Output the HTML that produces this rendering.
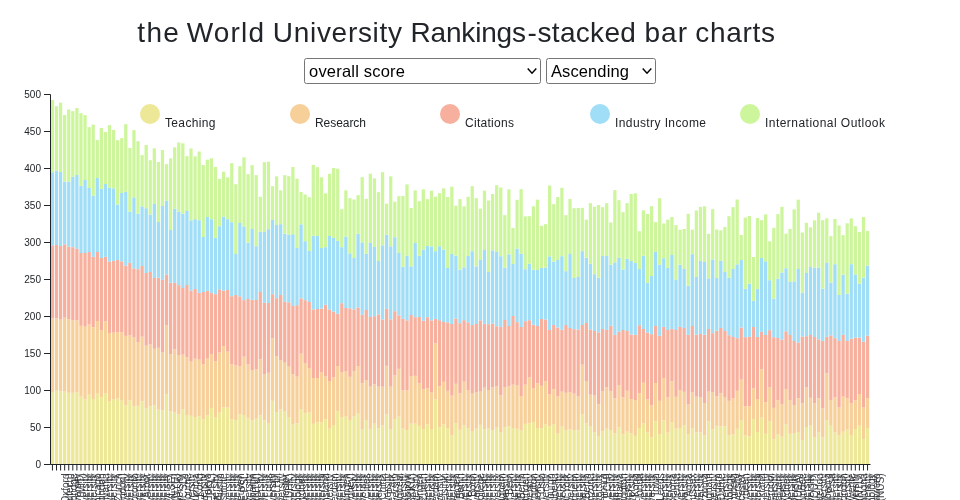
<!DOCTYPE html>
<html lang="en"><head><meta charset="utf-8"><title>the World University Rankings-stacked bar charts</title>
<style>
html,body{margin:0;padding:0;background:#fff;}
body{width:960px;height:500px;overflow:hidden;position:relative;font-family:"Liberation Sans","DejaVu Sans",sans-serif;color:#212529;}
h3{position:absolute;left:0;top:16px;width:960px;height:34px;margin:0;font-weight:400;font-size:28px;line-height:34px;white-space:nowrap;}
h3 span{position:absolute;top:0;}
.sel{position:absolute;top:58px;height:24px;border:1px solid #767676;border-radius:2.5px;background:#fff;font-size:16.5px;line-height:24px;color:#000;white-space:nowrap;box-sizing:content-box;}
.sel span{position:absolute;left:4px;top:-0.5px;}
.sel svg{position:absolute;right:2px;top:8px;}
svg.chart{position:absolute;left:0;top:0;}
svg.chart text{font-family:"Liberation Sans","DejaVu Sans",sans-serif;fill:#212529;}
.ax text{font-size:10px;}
.lg text{font-size:12px;}
</style></head><body>
<h3 id="title"><span id="w0" style="left:137.30px;letter-spacing:1.350px">the</span> <span id="w1" style="left:186.70px;letter-spacing:1.175px">World</span> <span id="w2" style="left:272.80px;letter-spacing:0.700px">University</span> <span id="w3" style="left:410.60px;letter-spacing:-0.200px">Rankings</span><span id="w4" style="left:527.40px;letter-spacing:0.500px">-</span><span id="w5" style="left:537.50px;letter-spacing:0.317px">stacked</span> <span id="w6" style="left:644.60px;letter-spacing:0.950px">bar</span> <span id="w7" style="left:695.20px;letter-spacing:0.700px">charts</span> </h3>
<div class="sel" id="s1" style="left:304px;width:235px"><span style="letter-spacing:0.2px">overall score</span><svg width="12" height="8" viewBox="0 0 12 8"><path d="M1.7 1.6 L6 6.2 L10.3 1.6" fill="none" stroke="#000" stroke-width="1.45"/></svg></div>
<div class="sel" id="s2" style="left:546px;width:108px"><span style="letter-spacing:0.1px">Ascending</span><svg width="12" height="8" viewBox="0 0 12 8"><path d="M1.7 1.6 L6 6.2 L10.3 1.6" fill="none" stroke="#000" stroke-width="1.45"/></svg></div>
<svg class="chart" width="960" height="500" viewBox="0 0 960 500">
<g fill="#ede798">
<rect x="50.82" y="392.17" width="3.26" height="71.83"/><rect x="54.89" y="390.67" width="3.26" height="73.33"/><rect x="58.97" y="391.33" width="3.26" height="72.67"/><rect x="63.04" y="391.67" width="3.26" height="72.33"/><rect x="67.12" y="392.83" width="3.26" height="71.17"/><rect x="71.19" y="392.83" width="3.26" height="71.17"/><rect x="75.27" y="392.17" width="3.26" height="71.83"/><rect x="79.34" y="396.67" width="3.26" height="67.33"/><rect x="83.42" y="399.33" width="3.26" height="64.67"/><rect x="87.5" y="394.67" width="3.26" height="69.33"/><rect x="91.57" y="399" width="3.26" height="65"/><rect x="95.65" y="393.67" width="3.26" height="70.33"/><rect x="99.72" y="397.17" width="3.26" height="66.83"/><rect x="103.8" y="393.33" width="3.26" height="70.67"/><rect x="107.87" y="401.33" width="3.26" height="62.67"/><rect x="111.95" y="399.5" width="3.26" height="64.5"/><rect x="116.02" y="398.5" width="3.26" height="65.5"/><rect x="120.1" y="400.67" width="3.26" height="63.33"/><rect x="124.17" y="405.33" width="3.26" height="58.67"/><rect x="128.25" y="400.5" width="3.26" height="63.5"/><rect x="132.33" y="406.33" width="3.26" height="57.67"/><rect x="136.4" y="405.83" width="3.26" height="58.17"/><rect x="140.48" y="401.33" width="3.26" height="62.67"/><rect x="144.55" y="408.5" width="3.26" height="55.5"/><rect x="148.63" y="406.33" width="3.26" height="57.67"/><rect x="152.7" y="405.33" width="3.26" height="58.67"/><rect x="156.78" y="409.67" width="3.26" height="54.33"/><rect x="160.85" y="410.33" width="3.26" height="53.67"/><rect x="164.93" y="394.5" width="3.26" height="69.5"/><rect x="169.01" y="411.5" width="3.26" height="52.5"/><rect x="173.08" y="412.5" width="3.26" height="51.5"/><rect x="177.16" y="414.67" width="3.26" height="49.33"/><rect x="181.23" y="409.17" width="3.26" height="54.83"/><rect x="185.31" y="415" width="3.26" height="49"/><rect x="189.38" y="415.83" width="3.26" height="48.17"/><rect x="193.46" y="417" width="3.26" height="47"/><rect x="197.53" y="416.33" width="3.26" height="47.67"/><rect x="201.61" y="419.5" width="3.26" height="44.5"/><rect x="205.69" y="415.5" width="3.26" height="48.5"/><rect x="209.76" y="408" width="3.26" height="56"/><rect x="213.84" y="417.5" width="3.26" height="46.5"/><rect x="217.91" y="412.5" width="3.26" height="51.5"/><rect x="221.99" y="407.5" width="3.26" height="56.5"/><rect x="226.06" y="407.5" width="3.26" height="56.5"/><rect x="230.14" y="419.17" width="3.26" height="44.83"/><rect x="234.21" y="420" width="3.26" height="44"/><rect x="238.29" y="414.17" width="3.26" height="49.83"/><rect x="242.37" y="415" width="3.26" height="49"/><rect x="246.44" y="417.83" width="3.26" height="46.17"/><rect x="250.52" y="420.5" width="3.26" height="43.5"/><rect x="254.59" y="418.67" width="3.26" height="45.33"/><rect x="258.67" y="415.33" width="3.26" height="48.67"/><rect x="262.74" y="420.33" width="3.26" height="43.67"/><rect x="266.82" y="423" width="3.26" height="41"/><rect x="270.89" y="400.83" width="3.26" height="63.17"/><rect x="274.97" y="412" width="3.26" height="52"/><rect x="279.05" y="409.33" width="3.26" height="54.67"/><rect x="283.12" y="411.67" width="3.26" height="52.33"/><rect x="287.2" y="417" width="3.26" height="47"/><rect x="291.27" y="424.67" width="3.26" height="39.33"/><rect x="295.35" y="423.33" width="3.26" height="40.67"/><rect x="299.42" y="409.17" width="3.26" height="54.83"/><rect x="303.5" y="413.33" width="3.26" height="50.67"/><rect x="307.57" y="412.5" width="3.26" height="51.5"/><rect x="311.65" y="423.83" width="3.26" height="40.17"/><rect x="315.73" y="422.33" width="3.26" height="41.67"/><rect x="319.8" y="422.5" width="3.26" height="41.5"/><rect x="323.88" y="419.17" width="3.26" height="44.83"/><rect x="327.95" y="428.67" width="3.26" height="35.33"/><rect x="332.03" y="425" width="3.26" height="39"/><rect x="336.1" y="411.33" width="3.26" height="52.67"/><rect x="340.18" y="417" width="3.26" height="47"/><rect x="344.25" y="416.67" width="3.26" height="47.33"/><rect x="348.33" y="420" width="3.26" height="44"/><rect x="352.41" y="416.33" width="3.26" height="47.67"/><rect x="356.48" y="413.67" width="3.26" height="50.33"/><rect x="360.56" y="429.67" width="3.26" height="34.33"/><rect x="364.63" y="420" width="3.26" height="44"/><rect x="368.71" y="428.83" width="3.26" height="35.17"/><rect x="372.78" y="423.67" width="3.26" height="40.33"/><rect x="376.86" y="428" width="3.26" height="36"/><rect x="380.93" y="425.5" width="3.26" height="38.5"/><rect x="385.01" y="414.5" width="3.26" height="49.5"/><rect x="389.09" y="429" width="3.26" height="35"/><rect x="393.16" y="419" width="3.26" height="45"/><rect x="397.24" y="416.67" width="3.26" height="47.33"/><rect x="401.31" y="428.67" width="3.26" height="35.33"/><rect x="405.39" y="430" width="3.26" height="34"/><rect x="409.46" y="423.67" width="3.26" height="40.33"/><rect x="413.54" y="423.67" width="3.26" height="40.33"/><rect x="417.61" y="425.83" width="3.26" height="38.17"/><rect x="421.69" y="429" width="3.26" height="35"/><rect x="425.77" y="424.33" width="3.26" height="39.67"/><rect x="429.84" y="429" width="3.26" height="35"/><rect x="433.92" y="399.5" width="3.26" height="64.5"/><rect x="437.99" y="427.5" width="3.26" height="36.5"/><rect x="442.07" y="424.5" width="3.26" height="39.5"/><rect x="446.14" y="428" width="3.26" height="36"/><rect x="450.22" y="435.33" width="3.26" height="28.67"/><rect x="454.29" y="423.17" width="3.26" height="40.83"/><rect x="458.37" y="429.83" width="3.26" height="34.17"/><rect x="462.45" y="425.5" width="3.26" height="38.5"/><rect x="466.52" y="428.17" width="3.26" height="35.83"/><rect x="470.6" y="431.67" width="3.26" height="32.33"/><rect x="474.67" y="428.67" width="3.26" height="35.33"/><rect x="478.75" y="424.83" width="3.26" height="39.17"/><rect x="482.82" y="429.17" width="3.26" height="34.83"/><rect x="486.9" y="428.5" width="3.26" height="35.5"/><rect x="490.97" y="430.5" width="3.26" height="33.5"/><rect x="495.05" y="427" width="3.26" height="37"/><rect x="499.13" y="432.5" width="3.26" height="31.5"/><rect x="503.2" y="427.33" width="3.26" height="36.67"/><rect x="507.28" y="426.17" width="3.26" height="37.83"/><rect x="511.35" y="428" width="3.26" height="36"/><rect x="515.43" y="428.83" width="3.26" height="35.17"/><rect x="519.5" y="430.5" width="3.26" height="33.5"/><rect x="523.58" y="423.83" width="3.26" height="40.17"/><rect x="527.65" y="423.33" width="3.26" height="40.67"/><rect x="531.73" y="422" width="3.26" height="42"/><rect x="535.81" y="428" width="3.26" height="36"/><rect x="539.88" y="428.33" width="3.26" height="35.67"/><rect x="543.96" y="424.5" width="3.26" height="39.5"/><rect x="548.03" y="426.33" width="3.26" height="37.67"/><rect x="552.11" y="424.17" width="3.26" height="39.83"/><rect x="556.18" y="433.67" width="3.26" height="30.33"/><rect x="560.26" y="426.67" width="3.26" height="37.33"/><rect x="564.33" y="430.33" width="3.26" height="33.67"/><rect x="568.41" y="429.5" width="3.26" height="34.5"/><rect x="572.49" y="430" width="3.26" height="34"/><rect x="576.56" y="430.33" width="3.26" height="33.67"/><rect x="580.64" y="414.17" width="3.26" height="49.83"/><rect x="584.71" y="423.33" width="3.26" height="40.67"/><rect x="588.79" y="426.67" width="3.26" height="37.33"/><rect x="592.86" y="432" width="3.26" height="32"/><rect x="596.94" y="436" width="3.26" height="28"/><rect x="601.01" y="431.33" width="3.26" height="32.67"/><rect x="605.09" y="428.67" width="3.26" height="35.33"/><rect x="609.17" y="430" width="3.26" height="34"/><rect x="613.24" y="433.33" width="3.26" height="30.67"/><rect x="617.32" y="427.33" width="3.26" height="36.67"/><rect x="621.39" y="434.5" width="3.26" height="29.5"/><rect x="625.47" y="431.67" width="3.26" height="32.33"/><rect x="629.54" y="433.33" width="3.26" height="30.67"/><rect x="633.62" y="435.83" width="3.26" height="28.17"/><rect x="637.69" y="428" width="3.26" height="36"/><rect x="641.77" y="423.5" width="3.26" height="40.5"/><rect x="645.84" y="432.5" width="3.26" height="31.5"/><rect x="649.92" y="437.17" width="3.26" height="26.83"/><rect x="654" y="421.33" width="3.26" height="42.67"/><rect x="658.07" y="434.33" width="3.26" height="29.67"/><rect x="662.15" y="420.33" width="3.26" height="43.67"/><rect x="666.22" y="432.67" width="3.26" height="31.33"/><rect x="670.3" y="422" width="3.26" height="42"/><rect x="674.37" y="428.67" width="3.26" height="35.33"/><rect x="678.45" y="428" width="3.26" height="36"/><rect x="682.52" y="425" width="3.26" height="39"/><rect x="686.6" y="434" width="3.26" height="30"/><rect x="690.68" y="428" width="3.26" height="36"/><rect x="694.75" y="432.5" width="3.26" height="31.5"/><rect x="698.83" y="432.5" width="3.26" height="31.5"/><rect x="702.9" y="435.5" width="3.26" height="28.5"/><rect x="706.98" y="421.33" width="3.26" height="42.67"/><rect x="711.05" y="429.17" width="3.26" height="34.83"/><rect x="715.13" y="425.83" width="3.26" height="38.17"/><rect x="719.2" y="426.33" width="3.26" height="37.67"/><rect x="723.28" y="426.17" width="3.26" height="37.83"/><rect x="727.36" y="435.33" width="3.26" height="28.67"/><rect x="731.43" y="434.5" width="3.26" height="29.5"/><rect x="735.51" y="428.83" width="3.26" height="35.17"/><rect x="739.58" y="420.5" width="3.26" height="43.5"/><rect x="743.66" y="435.5" width="3.26" height="28.5"/><rect x="747.73" y="436.33" width="3.26" height="27.67"/><rect x="751.81" y="419.17" width="3.26" height="44.83"/><rect x="755.88" y="432" width="3.26" height="32"/><rect x="759.96" y="417.67" width="3.26" height="46.33"/><rect x="764.04" y="433.83" width="3.26" height="30.17"/><rect x="768.11" y="421.33" width="3.26" height="42.67"/><rect x="772.19" y="439.17" width="3.26" height="24.83"/><rect x="776.26" y="434.5" width="3.26" height="29.5"/><rect x="780.34" y="436.67" width="3.26" height="27.33"/><rect x="784.41" y="424.5" width="3.26" height="39.5"/><rect x="788.49" y="433.83" width="3.26" height="30.17"/><rect x="792.56" y="433" width="3.26" height="31"/><rect x="796.64" y="432" width="3.26" height="32"/><rect x="800.72" y="440" width="3.26" height="24"/><rect x="804.79" y="427" width="3.26" height="37"/><rect x="808.87" y="425" width="3.26" height="39"/><rect x="812.94" y="437" width="3.26" height="27"/><rect x="817.02" y="432.5" width="3.26" height="31.5"/><rect x="821.09" y="437.5" width="3.26" height="26.5"/><rect x="825.17" y="420" width="3.26" height="44"/><rect x="829.24" y="425.67" width="3.26" height="38.33"/><rect x="833.32" y="432.5" width="3.26" height="31.5"/><rect x="837.4" y="435.5" width="3.26" height="28.5"/><rect x="841.47" y="431.67" width="3.26" height="32.33"/><rect x="845.55" y="429.67" width="3.26" height="34.33"/><rect x="849.62" y="435" width="3.26" height="29"/><rect x="853.7" y="429" width="3.26" height="35"/><rect x="857.77" y="425.6" width="3.26" height="38.4"/><rect x="861.85" y="439" width="3.26" height="25"/><rect x="865.92" y="428" width="3.26" height="36"/>
</g>
<g fill="#f7cf99">
<rect x="50.82" y="318.33" width="3.26" height="73.83"/><rect x="54.89" y="318.33" width="3.26" height="72.33"/><rect x="58.97" y="319.67" width="3.26" height="71.67"/><rect x="63.04" y="317.67" width="3.26" height="74"/><rect x="67.12" y="319.17" width="3.26" height="73.67"/><rect x="71.19" y="320.33" width="3.26" height="72.5"/><rect x="75.27" y="320.33" width="3.26" height="71.83"/><rect x="79.34" y="325.83" width="3.26" height="70.83"/><rect x="83.42" y="326.67" width="3.26" height="72.67"/><rect x="87.5" y="324.5" width="3.26" height="70.17"/><rect x="91.57" y="327.17" width="3.26" height="71.83"/><rect x="95.65" y="321" width="3.26" height="72.67"/><rect x="99.72" y="330" width="3.26" height="67.17"/><rect x="103.8" y="321.33" width="3.26" height="72"/><rect x="107.87" y="333" width="3.26" height="68.33"/><rect x="111.95" y="332.67" width="3.26" height="66.83"/><rect x="116.02" y="332.17" width="3.26" height="66.33"/><rect x="120.1" y="332.5" width="3.26" height="68.17"/><rect x="124.17" y="335.83" width="3.26" height="69.5"/><rect x="128.25" y="335.17" width="3.26" height="65.33"/><rect x="132.33" y="337.17" width="3.26" height="69.17"/><rect x="136.4" y="342" width="3.26" height="63.83"/><rect x="140.48" y="336.67" width="3.26" height="64.67"/><rect x="144.55" y="345.67" width="3.26" height="62.83"/><rect x="148.63" y="344.5" width="3.26" height="61.83"/><rect x="152.7" y="348.83" width="3.26" height="56.5"/><rect x="156.78" y="347.83" width="3.26" height="61.83"/><rect x="160.85" y="352.17" width="3.26" height="58.17"/><rect x="164.93" y="325" width="3.26" height="69.5"/><rect x="169.01" y="354.17" width="3.26" height="57.33"/><rect x="173.08" y="349.17" width="3.26" height="63.33"/><rect x="177.16" y="355" width="3.26" height="59.67"/><rect x="181.23" y="354.67" width="3.26" height="54.5"/><rect x="185.31" y="357.17" width="3.26" height="57.83"/><rect x="189.38" y="361.67" width="3.26" height="54.17"/><rect x="193.46" y="358.67" width="3.26" height="58.33"/><rect x="197.53" y="359.67" width="3.26" height="56.67"/><rect x="201.61" y="364.17" width="3.26" height="55.33"/><rect x="205.69" y="358.67" width="3.26" height="56.83"/><rect x="209.76" y="354.17" width="3.26" height="53.83"/><rect x="213.84" y="361.17" width="3.26" height="56.33"/><rect x="217.91" y="352.5" width="3.26" height="60"/><rect x="221.99" y="346.17" width="3.26" height="61.33"/><rect x="226.06" y="351.67" width="3.26" height="55.83"/><rect x="230.14" y="364.17" width="3.26" height="55"/><rect x="234.21" y="365.5" width="3.26" height="54.5"/><rect x="238.29" y="366.33" width="3.26" height="47.83"/><rect x="242.37" y="356.67" width="3.26" height="58.33"/><rect x="246.44" y="364.5" width="3.26" height="53.33"/><rect x="250.52" y="370" width="3.26" height="50.5"/><rect x="254.59" y="369.17" width="3.26" height="49.5"/><rect x="258.67" y="359.17" width="3.26" height="56.17"/><rect x="262.74" y="374.5" width="3.26" height="45.83"/><rect x="266.82" y="372.83" width="3.26" height="50.17"/><rect x="270.89" y="338.33" width="3.26" height="62.5"/><rect x="274.97" y="356.33" width="3.26" height="55.67"/><rect x="279.05" y="360" width="3.26" height="49.33"/><rect x="283.12" y="362.67" width="3.26" height="49"/><rect x="287.2" y="366.67" width="3.26" height="50.33"/><rect x="291.27" y="374.17" width="3.26" height="50.5"/><rect x="295.35" y="376.67" width="3.26" height="46.67"/><rect x="299.42" y="353.67" width="3.26" height="55.5"/><rect x="303.5" y="363.5" width="3.26" height="49.83"/><rect x="307.57" y="368.33" width="3.26" height="44.17"/><rect x="311.65" y="378" width="3.26" height="45.83"/><rect x="315.73" y="378" width="3.26" height="44.33"/><rect x="319.8" y="372.5" width="3.26" height="50"/><rect x="323.88" y="376.5" width="3.26" height="42.67"/><rect x="327.95" y="381" width="3.26" height="47.67"/><rect x="332.03" y="377.33" width="3.26" height="47.67"/><rect x="336.1" y="366" width="3.26" height="45.33"/><rect x="340.18" y="372.33" width="3.26" height="44.67"/><rect x="344.25" y="371.17" width="3.26" height="45.5"/><rect x="348.33" y="376.83" width="3.26" height="43.17"/><rect x="352.41" y="371.17" width="3.26" height="45.17"/><rect x="356.48" y="366" width="3.26" height="47.67"/><rect x="360.56" y="383.33" width="3.26" height="46.33"/><rect x="364.63" y="380" width="3.26" height="40"/><rect x="368.71" y="386.67" width="3.26" height="42.17"/><rect x="372.78" y="384.17" width="3.26" height="39.5"/><rect x="376.86" y="386.67" width="3.26" height="41.33"/><rect x="380.93" y="386.67" width="3.26" height="38.83"/><rect x="385.01" y="365.83" width="3.26" height="48.67"/><rect x="389.09" y="386.67" width="3.26" height="42.33"/><rect x="393.16" y="375.5" width="3.26" height="43.5"/><rect x="397.24" y="368.83" width="3.26" height="47.83"/><rect x="401.31" y="390.33" width="3.26" height="38.33"/><rect x="405.39" y="390.33" width="3.26" height="39.67"/><rect x="409.46" y="376.17" width="3.26" height="47.5"/><rect x="413.54" y="375.83" width="3.26" height="47.83"/><rect x="417.61" y="383.33" width="3.26" height="42.5"/><rect x="421.69" y="389.17" width="3.26" height="39.83"/><rect x="425.77" y="388.33" width="3.26" height="36"/><rect x="429.84" y="392.5" width="3.26" height="36.5"/><rect x="433.92" y="343.33" width="3.26" height="56.17"/><rect x="437.99" y="386.17" width="3.26" height="41.33"/><rect x="442.07" y="381.83" width="3.26" height="42.67"/><rect x="446.14" y="390.83" width="3.26" height="37.17"/><rect x="450.22" y="395.67" width="3.26" height="39.67"/><rect x="454.29" y="383.83" width="3.26" height="39.33"/><rect x="458.37" y="393.33" width="3.26" height="36.5"/><rect x="462.45" y="381.67" width="3.26" height="43.83"/><rect x="466.52" y="390" width="3.26" height="38.17"/><rect x="470.6" y="393.67" width="3.26" height="38"/><rect x="474.67" y="392.5" width="3.26" height="36.17"/><rect x="478.75" y="391.67" width="3.26" height="33.17"/><rect x="482.82" y="387.67" width="3.26" height="41.5"/><rect x="486.9" y="390" width="3.26" height="38.5"/><rect x="490.97" y="387.33" width="3.26" height="43.17"/><rect x="495.05" y="386.33" width="3.26" height="40.67"/><rect x="499.13" y="395.33" width="3.26" height="37.17"/><rect x="503.2" y="387" width="3.26" height="40.33"/><rect x="507.28" y="386.33" width="3.26" height="39.83"/><rect x="511.35" y="384.67" width="3.26" height="43.33"/><rect x="515.43" y="385.5" width="3.26" height="43.33"/><rect x="519.5" y="396" width="3.26" height="34.5"/><rect x="523.58" y="384.67" width="3.26" height="39.17"/><rect x="527.65" y="377.5" width="3.26" height="45.83"/><rect x="531.73" y="388.33" width="3.26" height="33.67"/><rect x="535.81" y="383.33" width="3.26" height="44.67"/><rect x="539.88" y="385.83" width="3.26" height="42.5"/><rect x="543.96" y="381.33" width="3.26" height="43.17"/><rect x="548.03" y="394.5" width="3.26" height="31.83"/><rect x="552.11" y="389.33" width="3.26" height="34.83"/><rect x="556.18" y="396.33" width="3.26" height="37.33"/><rect x="560.26" y="391.67" width="3.26" height="35"/><rect x="564.33" y="392.83" width="3.26" height="37.5"/><rect x="568.41" y="392" width="3.26" height="37.5"/><rect x="572.49" y="393.67" width="3.26" height="36.33"/><rect x="576.56" y="396.17" width="3.26" height="34.17"/><rect x="580.64" y="364.67" width="3.26" height="49.5"/><rect x="584.71" y="381" width="3.26" height="42.33"/><rect x="588.79" y="394.67" width="3.26" height="32"/><rect x="592.86" y="395.5" width="3.26" height="36.5"/><rect x="596.94" y="404.33" width="3.26" height="31.67"/><rect x="601.01" y="391.5" width="3.26" height="39.83"/><rect x="605.09" y="387.5" width="3.26" height="41.17"/><rect x="609.17" y="391.33" width="3.26" height="38.67"/><rect x="613.24" y="398.33" width="3.26" height="35"/><rect x="617.32" y="385.17" width="3.26" height="42.17"/><rect x="621.39" y="397.33" width="3.26" height="37.17"/><rect x="625.47" y="390.83" width="3.26" height="40.83"/><rect x="629.54" y="399" width="3.26" height="34.33"/><rect x="633.62" y="400.17" width="3.26" height="35.67"/><rect x="637.69" y="393.33" width="3.26" height="34.67"/><rect x="641.77" y="382.83" width="3.26" height="40.67"/><rect x="645.84" y="399.5" width="3.26" height="33"/><rect x="649.92" y="405.33" width="3.26" height="31.83"/><rect x="654" y="383" width="3.26" height="38.33"/><rect x="658.07" y="400.83" width="3.26" height="33.5"/><rect x="662.15" y="378" width="3.26" height="42.33"/><rect x="666.22" y="397.5" width="3.26" height="35.17"/><rect x="670.3" y="381.17" width="3.26" height="40.83"/><rect x="674.37" y="396.83" width="3.26" height="31.83"/><rect x="678.45" y="390" width="3.26" height="38"/><rect x="682.52" y="391.83" width="3.26" height="33.17"/><rect x="686.6" y="404.5" width="3.26" height="29.5"/><rect x="690.68" y="392.5" width="3.26" height="35.5"/><rect x="694.75" y="396.67" width="3.26" height="35.83"/><rect x="698.83" y="397.5" width="3.26" height="35"/><rect x="702.9" y="403" width="3.26" height="32.5"/><rect x="706.98" y="391.67" width="3.26" height="29.67"/><rect x="711.05" y="392" width="3.26" height="37.17"/><rect x="715.13" y="396.17" width="3.26" height="29.67"/><rect x="719.2" y="393.33" width="3.26" height="33"/><rect x="723.28" y="397" width="3.26" height="29.17"/><rect x="727.36" y="400.83" width="3.26" height="34.5"/><rect x="731.43" y="398.33" width="3.26" height="36.17"/><rect x="735.51" y="390.83" width="3.26" height="38"/><rect x="739.58" y="379.67" width="3.26" height="40.83"/><rect x="743.66" y="406.17" width="3.26" height="29.33"/><rect x="747.73" y="406.17" width="3.26" height="30.17"/><rect x="751.81" y="388.33" width="3.26" height="30.83"/><rect x="755.88" y="399" width="3.26" height="33"/><rect x="759.96" y="369.33" width="3.26" height="48.33"/><rect x="764.04" y="402.17" width="3.26" height="31.67"/><rect x="768.11" y="387.5" width="3.26" height="33.83"/><rect x="772.19" y="407.83" width="3.26" height="31.33"/><rect x="776.26" y="400.33" width="3.26" height="34.17"/><rect x="780.34" y="404.17" width="3.26" height="32.5"/><rect x="784.41" y="389.17" width="3.26" height="35.33"/><rect x="788.49" y="400" width="3.26" height="33.83"/><rect x="792.56" y="405" width="3.26" height="28"/><rect x="796.64" y="398.33" width="3.26" height="33.67"/><rect x="800.72" y="403.33" width="3.26" height="36.67"/><rect x="804.79" y="387.5" width="3.26" height="39.5"/><rect x="808.87" y="397.83" width="3.26" height="27.17"/><rect x="812.94" y="403.33" width="3.26" height="33.67"/><rect x="817.02" y="398.33" width="3.26" height="34.17"/><rect x="821.09" y="408.33" width="3.26" height="29.17"/><rect x="825.17" y="373.33" width="3.26" height="46.67"/><rect x="829.24" y="400" width="3.26" height="25.67"/><rect x="833.32" y="397.5" width="3.26" height="35"/><rect x="837.4" y="407.5" width="3.26" height="28"/><rect x="841.47" y="396.67" width="3.26" height="35"/><rect x="845.55" y="398.33" width="3.26" height="31.33"/><rect x="849.62" y="403.33" width="3.26" height="31.67"/><rect x="853.7" y="400.4" width="3.26" height="28.6"/><rect x="857.77" y="394" width="3.26" height="31.6"/><rect x="861.85" y="407.6" width="3.26" height="31.4"/><rect x="865.92" y="398" width="3.26" height="30"/>
</g>
<g fill="#f7b09d">
<rect x="50.82" y="245.33" width="3.26" height="73"/><rect x="54.89" y="245" width="3.26" height="73.33"/><rect x="58.97" y="246" width="3.26" height="73.67"/><rect x="63.04" y="244.33" width="3.26" height="73.33"/><rect x="67.12" y="246.67" width="3.26" height="72.5"/><rect x="71.19" y="247.17" width="3.26" height="73.17"/><rect x="75.27" y="248.83" width="3.26" height="71.5"/><rect x="79.34" y="253" width="3.26" height="72.83"/><rect x="83.42" y="253" width="3.26" height="73.67"/><rect x="87.5" y="252" width="3.26" height="72.5"/><rect x="91.57" y="256.83" width="3.26" height="70.33"/><rect x="95.65" y="252" width="3.26" height="69"/><rect x="99.72" y="258" width="3.26" height="72"/><rect x="103.8" y="256.83" width="3.26" height="64.5"/><rect x="107.87" y="261.5" width="3.26" height="71.5"/><rect x="111.95" y="260.83" width="3.26" height="71.83"/><rect x="116.02" y="260" width="3.26" height="72.17"/><rect x="120.1" y="261.33" width="3.26" height="71.17"/><rect x="124.17" y="265.67" width="3.26" height="70.17"/><rect x="128.25" y="262.83" width="3.26" height="72.33"/><rect x="132.33" y="268.33" width="3.26" height="68.83"/><rect x="136.4" y="269.17" width="3.26" height="72.83"/><rect x="140.48" y="266" width="3.26" height="70.67"/><rect x="144.55" y="273" width="3.26" height="72.67"/><rect x="148.63" y="272" width="3.26" height="72.5"/><rect x="152.7" y="278" width="3.26" height="70.83"/><rect x="156.78" y="277.67" width="3.26" height="70.17"/><rect x="160.85" y="279.83" width="3.26" height="72.33"/><rect x="164.93" y="274.67" width="3.26" height="50.33"/><rect x="169.01" y="282.83" width="3.26" height="71.33"/><rect x="173.08" y="282.83" width="3.26" height="66.33"/><rect x="177.16" y="285.17" width="3.26" height="69.83"/><rect x="181.23" y="288" width="3.26" height="66.67"/><rect x="185.31" y="285" width="3.26" height="72.17"/><rect x="189.38" y="290.67" width="3.26" height="71"/><rect x="193.46" y="289" width="3.26" height="69.67"/><rect x="197.53" y="292.83" width="3.26" height="66.83"/><rect x="201.61" y="292" width="3.26" height="72.17"/><rect x="205.69" y="290.83" width="3.26" height="67.83"/><rect x="209.76" y="292.83" width="3.26" height="61.33"/><rect x="213.84" y="294.17" width="3.26" height="67"/><rect x="217.91" y="289.33" width="3.26" height="63.17"/><rect x="221.99" y="290.67" width="3.26" height="55.5"/><rect x="226.06" y="290" width="3.26" height="61.67"/><rect x="230.14" y="296.17" width="3.26" height="68"/><rect x="234.21" y="295" width="3.26" height="70.5"/><rect x="238.29" y="296.33" width="3.26" height="70"/><rect x="242.37" y="300.17" width="3.26" height="56.5"/><rect x="246.44" y="299" width="3.26" height="65.5"/><rect x="250.52" y="299.83" width="3.26" height="70.17"/><rect x="254.59" y="300" width="3.26" height="69.17"/><rect x="258.67" y="292" width="3.26" height="67.17"/><rect x="262.74" y="302.83" width="3.26" height="71.67"/><rect x="266.82" y="303" width="3.26" height="69.83"/><rect x="270.89" y="294.17" width="3.26" height="44.17"/><rect x="274.97" y="298.17" width="3.26" height="58.17"/><rect x="279.05" y="295" width="3.26" height="65"/><rect x="283.12" y="301.83" width="3.26" height="60.83"/><rect x="287.2" y="302.33" width="3.26" height="64.33"/><rect x="291.27" y="306" width="3.26" height="68.17"/><rect x="295.35" y="305.17" width="3.26" height="71.5"/><rect x="299.42" y="298.33" width="3.26" height="55.33"/><rect x="303.5" y="300.17" width="3.26" height="63.33"/><rect x="307.57" y="302" width="3.26" height="66.33"/><rect x="311.65" y="309.5" width="3.26" height="68.5"/><rect x="315.73" y="309" width="3.26" height="69"/><rect x="319.8" y="308.5" width="3.26" height="64"/><rect x="323.88" y="304.83" width="3.26" height="71.67"/><rect x="327.95" y="309.5" width="3.26" height="71.5"/><rect x="332.03" y="311.67" width="3.26" height="65.67"/><rect x="336.1" y="313.83" width="3.26" height="52.17"/><rect x="340.18" y="303.17" width="3.26" height="69.17"/><rect x="344.25" y="308" width="3.26" height="63.17"/><rect x="348.33" y="308.33" width="3.26" height="68.5"/><rect x="352.41" y="309.33" width="3.26" height="61.83"/><rect x="356.48" y="307.5" width="3.26" height="58.5"/><rect x="360.56" y="314.83" width="3.26" height="68.5"/><rect x="364.63" y="310" width="3.26" height="70"/><rect x="368.71" y="317" width="3.26" height="69.67"/><rect x="372.78" y="316.17" width="3.26" height="68"/><rect x="376.86" y="314.33" width="3.26" height="72.33"/><rect x="380.93" y="319.5" width="3.26" height="67.17"/><rect x="385.01" y="308.83" width="3.26" height="57"/><rect x="389.09" y="319.33" width="3.26" height="67.33"/><rect x="393.16" y="311.17" width="3.26" height="64.33"/><rect x="397.24" y="315.33" width="3.26" height="53.5"/><rect x="401.31" y="318.83" width="3.26" height="71.5"/><rect x="405.39" y="320.33" width="3.26" height="70"/><rect x="409.46" y="315" width="3.26" height="61.17"/><rect x="413.54" y="317.17" width="3.26" height="58.67"/><rect x="417.61" y="317" width="3.26" height="66.33"/><rect x="421.69" y="320.67" width="3.26" height="68.5"/><rect x="425.77" y="317.17" width="3.26" height="71.17"/><rect x="429.84" y="320.33" width="3.26" height="72.17"/><rect x="433.92" y="318.83" width="3.26" height="24.5"/><rect x="437.99" y="320.17" width="3.26" height="66"/><rect x="442.07" y="322" width="3.26" height="59.83"/><rect x="446.14" y="322.33" width="3.26" height="68.5"/><rect x="450.22" y="324" width="3.26" height="71.67"/><rect x="454.29" y="318.5" width="3.26" height="65.33"/><rect x="458.37" y="323.17" width="3.26" height="70.17"/><rect x="462.45" y="320.17" width="3.26" height="61.5"/><rect x="466.52" y="322.33" width="3.26" height="67.67"/><rect x="470.6" y="325" width="3.26" height="68.67"/><rect x="474.67" y="324" width="3.26" height="68.5"/><rect x="478.75" y="320.33" width="3.26" height="71.33"/><rect x="482.82" y="323.83" width="3.26" height="63.83"/><rect x="486.9" y="324.17" width="3.26" height="65.83"/><rect x="490.97" y="323.5" width="3.26" height="63.83"/><rect x="495.05" y="326.17" width="3.26" height="60.17"/><rect x="499.13" y="326.83" width="3.26" height="68.5"/><rect x="503.2" y="320" width="3.26" height="67"/><rect x="507.28" y="326" width="3.26" height="60.33"/><rect x="511.35" y="316" width="3.26" height="68.67"/><rect x="515.43" y="322.17" width="3.26" height="63.33"/><rect x="519.5" y="327" width="3.26" height="69"/><rect x="523.58" y="321.17" width="3.26" height="63.5"/><rect x="527.65" y="320.17" width="3.26" height="57.33"/><rect x="531.73" y="324.67" width="3.26" height="63.67"/><rect x="535.81" y="326" width="3.26" height="57.33"/><rect x="539.88" y="319" width="3.26" height="66.83"/><rect x="543.96" y="319.5" width="3.26" height="61.83"/><rect x="548.03" y="330" width="3.26" height="64.5"/><rect x="552.11" y="325" width="3.26" height="64.33"/><rect x="556.18" y="327.5" width="3.26" height="68.83"/><rect x="560.26" y="329.83" width="3.26" height="61.83"/><rect x="564.33" y="325" width="3.26" height="67.83"/><rect x="568.41" y="328" width="3.26" height="64"/><rect x="572.49" y="329.17" width="3.26" height="64.5"/><rect x="576.56" y="329.5" width="3.26" height="66.67"/><rect x="580.64" y="325" width="3.26" height="39.67"/><rect x="584.71" y="323" width="3.26" height="58"/><rect x="588.79" y="329.33" width="3.26" height="65.33"/><rect x="592.86" y="331" width="3.26" height="64.5"/><rect x="596.94" y="332.33" width="3.26" height="72"/><rect x="601.01" y="329" width="3.26" height="62.5"/><rect x="605.09" y="329.83" width="3.26" height="57.67"/><rect x="609.17" y="325.83" width="3.26" height="65.5"/><rect x="613.24" y="334.83" width="3.26" height="63.5"/><rect x="617.32" y="331.67" width="3.26" height="53.5"/><rect x="621.39" y="330" width="3.26" height="67.33"/><rect x="625.47" y="331" width="3.26" height="59.83"/><rect x="629.54" y="334.5" width="3.26" height="64.5"/><rect x="633.62" y="334.83" width="3.26" height="65.33"/><rect x="637.69" y="325.17" width="3.26" height="68.17"/><rect x="641.77" y="329" width="3.26" height="53.83"/><rect x="645.84" y="332.5" width="3.26" height="67"/><rect x="649.92" y="334.17" width="3.26" height="71.17"/><rect x="654" y="326" width="3.26" height="57"/><rect x="658.07" y="335.83" width="3.26" height="65"/><rect x="662.15" y="326.83" width="3.26" height="51.17"/><rect x="666.22" y="330" width="3.26" height="67.5"/><rect x="670.3" y="328.83" width="3.26" height="52.33"/><rect x="674.37" y="330" width="3.26" height="66.83"/><rect x="678.45" y="326.83" width="3.26" height="63.17"/><rect x="682.52" y="328" width="3.26" height="63.83"/><rect x="686.6" y="334.83" width="3.26" height="69.67"/><rect x="690.68" y="326" width="3.26" height="66.5"/><rect x="694.75" y="334.67" width="3.26" height="62"/><rect x="698.83" y="334" width="3.26" height="63.5"/><rect x="702.9" y="334.67" width="3.26" height="68.33"/><rect x="706.98" y="329" width="3.26" height="62.67"/><rect x="711.05" y="333.17" width="3.26" height="58.83"/><rect x="715.13" y="330.67" width="3.26" height="65.5"/><rect x="719.2" y="328" width="3.26" height="65.33"/><rect x="723.28" y="331" width="3.26" height="66"/><rect x="727.36" y="335.17" width="3.26" height="65.67"/><rect x="731.43" y="337" width="3.26" height="61.33"/><rect x="735.51" y="338.17" width="3.26" height="52.67"/><rect x="739.58" y="327.5" width="3.26" height="52.17"/><rect x="743.66" y="337.17" width="3.26" height="69"/><rect x="747.73" y="336.83" width="3.26" height="69.33"/><rect x="751.81" y="327" width="3.26" height="61.33"/><rect x="755.88" y="337" width="3.26" height="62"/><rect x="759.96" y="331.83" width="3.26" height="37.5"/><rect x="764.04" y="335" width="3.26" height="67.17"/><rect x="768.11" y="330.17" width="3.26" height="57.33"/><rect x="772.19" y="337.17" width="3.26" height="70.67"/><rect x="776.26" y="338" width="3.26" height="62.33"/><rect x="780.34" y="339.67" width="3.26" height="64.5"/><rect x="784.41" y="331.33" width="3.26" height="57.83"/><rect x="788.49" y="335" width="3.26" height="65"/><rect x="792.56" y="341" width="3.26" height="64"/><rect x="796.64" y="342.67" width="3.26" height="55.67"/><rect x="800.72" y="336.5" width="3.26" height="66.83"/><rect x="804.79" y="336.17" width="3.26" height="51.33"/><rect x="808.87" y="335" width="3.26" height="62.83"/><rect x="812.94" y="337" width="3.26" height="66.33"/><rect x="817.02" y="339.33" width="3.26" height="59"/><rect x="821.09" y="340.83" width="3.26" height="67.5"/><rect x="825.17" y="336.83" width="3.26" height="36.5"/><rect x="829.24" y="335.33" width="3.26" height="64.67"/><rect x="833.32" y="338.17" width="3.26" height="59.33"/><rect x="837.4" y="341" width="3.26" height="66.5"/><rect x="841.47" y="334.83" width="3.26" height="61.83"/><rect x="845.55" y="341" width="3.26" height="57.33"/><rect x="849.62" y="338.67" width="3.26" height="64.67"/><rect x="853.7" y="337.6" width="3.26" height="62.8"/><rect x="857.77" y="337.6" width="3.26" height="56.4"/><rect x="861.85" y="341.6" width="3.26" height="66"/><rect x="865.92" y="335.6" width="3.26" height="62.4"/>
</g>
<g fill="#a0ddf7">
<rect x="50.82" y="172.17" width="3.26" height="73.17"/><rect x="54.89" y="170.83" width="3.26" height="74.17"/><rect x="58.97" y="172" width="3.26" height="74"/><rect x="63.04" y="181.67" width="3.26" height="62.67"/><rect x="67.12" y="181.67" width="3.26" height="65"/><rect x="71.19" y="176.83" width="3.26" height="70.33"/><rect x="75.27" y="175" width="3.26" height="73.83"/><rect x="79.34" y="185.83" width="3.26" height="67.17"/><rect x="83.42" y="180" width="3.26" height="73"/><rect x="87.5" y="188" width="3.26" height="64"/><rect x="91.57" y="195.67" width="3.26" height="61.17"/><rect x="95.65" y="178" width="3.26" height="74"/><rect x="99.72" y="188.83" width="3.26" height="69.17"/><rect x="103.8" y="184" width="3.26" height="72.83"/><rect x="107.87" y="187.67" width="3.26" height="73.83"/><rect x="111.95" y="188.33" width="3.26" height="72.5"/><rect x="116.02" y="204.5" width="3.26" height="55.5"/><rect x="120.1" y="193" width="3.26" height="68.33"/><rect x="124.17" y="191.83" width="3.26" height="73.83"/><rect x="128.25" y="211.67" width="3.26" height="51.17"/><rect x="132.33" y="197.33" width="3.26" height="71"/><rect x="136.4" y="213.67" width="3.26" height="55.5"/><rect x="140.48" y="206.33" width="3.26" height="59.67"/><rect x="144.55" y="208.17" width="3.26" height="64.83"/><rect x="148.63" y="214.5" width="3.26" height="57.5"/><rect x="152.7" y="204" width="3.26" height="74"/><rect x="156.78" y="222" width="3.26" height="55.67"/><rect x="160.85" y="206" width="3.26" height="73.83"/><rect x="164.93" y="200.83" width="3.26" height="73.83"/><rect x="169.01" y="230" width="3.26" height="52.83"/><rect x="173.08" y="208.83" width="3.26" height="74"/><rect x="177.16" y="211.83" width="3.26" height="73.33"/><rect x="181.23" y="213.83" width="3.26" height="74.17"/><rect x="185.31" y="211" width="3.26" height="74"/><rect x="189.38" y="220.33" width="3.26" height="70.33"/><rect x="193.46" y="219.17" width="3.26" height="69.83"/><rect x="197.53" y="220.17" width="3.26" height="72.67"/><rect x="201.61" y="237" width="3.26" height="55"/><rect x="205.69" y="217" width="3.26" height="73.83"/><rect x="209.76" y="219.17" width="3.26" height="73.67"/><rect x="213.84" y="237.83" width="3.26" height="56.33"/><rect x="217.91" y="226.17" width="3.26" height="63.17"/><rect x="221.99" y="216.67" width="3.26" height="74"/><rect x="226.06" y="219.17" width="3.26" height="70.83"/><rect x="230.14" y="222.17" width="3.26" height="74"/><rect x="234.21" y="254" width="3.26" height="41"/><rect x="238.29" y="223" width="3.26" height="73.33"/><rect x="242.37" y="226.33" width="3.26" height="73.83"/><rect x="246.44" y="242.67" width="3.26" height="56.33"/><rect x="250.52" y="229" width="3.26" height="70.83"/><rect x="254.59" y="246.17" width="3.26" height="53.83"/><rect x="258.67" y="231.83" width="3.26" height="60.17"/><rect x="262.74" y="232" width="3.26" height="70.83"/><rect x="266.82" y="229.17" width="3.26" height="73.83"/><rect x="270.89" y="220" width="3.26" height="74.17"/><rect x="274.97" y="225" width="3.26" height="73.17"/><rect x="279.05" y="224.17" width="3.26" height="70.83"/><rect x="283.12" y="233.67" width="3.26" height="68.17"/><rect x="287.2" y="234.83" width="3.26" height="67.5"/><rect x="291.27" y="234.17" width="3.26" height="71.83"/><rect x="295.35" y="248" width="3.26" height="57.17"/><rect x="299.42" y="224.33" width="3.26" height="74"/><rect x="303.5" y="241.17" width="3.26" height="59"/><rect x="307.57" y="251" width="3.26" height="51"/><rect x="311.65" y="235.67" width="3.26" height="73.83"/><rect x="315.73" y="236" width="3.26" height="73"/><rect x="319.8" y="248" width="3.26" height="60.5"/><rect x="323.88" y="247.17" width="3.26" height="57.67"/><rect x="327.95" y="236" width="3.26" height="73.5"/><rect x="332.03" y="238" width="3.26" height="73.67"/><rect x="336.1" y="240.83" width="3.26" height="73"/><rect x="340.18" y="247.17" width="3.26" height="56"/><rect x="344.25" y="236.5" width="3.26" height="71.5"/><rect x="348.33" y="253.33" width="3.26" height="55"/><rect x="352.41" y="258" width="3.26" height="51.33"/><rect x="356.48" y="233.83" width="3.26" height="73.67"/><rect x="360.56" y="242.33" width="3.26" height="72.5"/><rect x="364.63" y="253.83" width="3.26" height="56.17"/><rect x="368.71" y="243" width="3.26" height="74"/><rect x="372.78" y="247" width="3.26" height="69.17"/><rect x="376.86" y="261" width="3.26" height="53.33"/><rect x="380.93" y="245.33" width="3.26" height="74.17"/><rect x="385.01" y="234.83" width="3.26" height="74"/><rect x="389.09" y="246.33" width="3.26" height="73"/><rect x="393.16" y="237.17" width="3.26" height="74"/><rect x="397.24" y="253" width="3.26" height="62.33"/><rect x="401.31" y="266.83" width="3.26" height="52"/><rect x="405.39" y="255.83" width="3.26" height="64.5"/><rect x="409.46" y="266.33" width="3.26" height="48.67"/><rect x="413.54" y="243" width="3.26" height="74.17"/><rect x="417.61" y="255.67" width="3.26" height="61.33"/><rect x="421.69" y="249.5" width="3.26" height="71.17"/><rect x="425.77" y="246" width="3.26" height="71.17"/><rect x="429.84" y="246.33" width="3.26" height="74"/><rect x="433.92" y="251.17" width="3.26" height="67.67"/><rect x="437.99" y="246.17" width="3.26" height="74"/><rect x="442.07" y="249.67" width="3.26" height="72.33"/><rect x="446.14" y="268" width="3.26" height="54.33"/><rect x="450.22" y="254" width="3.26" height="70"/><rect x="454.29" y="255.67" width="3.26" height="62.83"/><rect x="458.37" y="269.67" width="3.26" height="53.5"/><rect x="462.45" y="267.33" width="3.26" height="52.83"/><rect x="466.52" y="256" width="3.26" height="66.33"/><rect x="470.6" y="251.17" width="3.26" height="73.83"/><rect x="474.67" y="266.33" width="3.26" height="57.67"/><rect x="478.75" y="260" width="3.26" height="60.33"/><rect x="482.82" y="250" width="3.26" height="73.83"/><rect x="486.9" y="272" width="3.26" height="52.17"/><rect x="490.97" y="250.33" width="3.26" height="73.17"/><rect x="495.05" y="252" width="3.26" height="74.17"/><rect x="499.13" y="256.17" width="3.26" height="70.67"/><rect x="503.2" y="267.67" width="3.26" height="52.33"/><rect x="507.28" y="254.33" width="3.26" height="71.67"/><rect x="511.35" y="264" width="3.26" height="52"/><rect x="515.43" y="248.5" width="3.26" height="73.67"/><rect x="519.5" y="253.83" width="3.26" height="73.17"/><rect x="523.58" y="269.17" width="3.26" height="52"/><rect x="527.65" y="263.67" width="3.26" height="56.5"/><rect x="531.73" y="269.67" width="3.26" height="55"/><rect x="535.81" y="270" width="3.26" height="56"/><rect x="539.88" y="267.83" width="3.26" height="51.17"/><rect x="543.96" y="267.5" width="3.26" height="52"/><rect x="548.03" y="256.33" width="3.26" height="73.67"/><rect x="552.11" y="261.67" width="3.26" height="63.33"/><rect x="556.18" y="260" width="3.26" height="67.5"/><rect x="560.26" y="256.17" width="3.26" height="73.67"/><rect x="564.33" y="271.17" width="3.26" height="53.83"/><rect x="568.41" y="254" width="3.26" height="74"/><rect x="572.49" y="278" width="3.26" height="51.17"/><rect x="576.56" y="277" width="3.26" height="52.5"/><rect x="580.64" y="251.17" width="3.26" height="73.83"/><rect x="584.71" y="257.67" width="3.26" height="65.33"/><rect x="588.79" y="263.83" width="3.26" height="65.5"/><rect x="592.86" y="274.17" width="3.26" height="56.83"/><rect x="596.94" y="277.83" width="3.26" height="54.5"/><rect x="601.01" y="256" width="3.26" height="73"/><rect x="605.09" y="256" width="3.26" height="73.83"/><rect x="609.17" y="264.67" width="3.26" height="61.17"/><rect x="613.24" y="262.33" width="3.26" height="72.5"/><rect x="617.32" y="257.83" width="3.26" height="73.83"/><rect x="621.39" y="269.5" width="3.26" height="60.5"/><rect x="625.47" y="258.83" width="3.26" height="72.17"/><rect x="629.54" y="261" width="3.26" height="73.5"/><rect x="633.62" y="263" width="3.26" height="71.83"/><rect x="637.69" y="269" width="3.26" height="56.17"/><rect x="641.77" y="255.83" width="3.26" height="73.17"/><rect x="645.84" y="282.83" width="3.26" height="49.67"/><rect x="649.92" y="276" width="3.26" height="58.17"/><rect x="654" y="251.83" width="3.26" height="74.17"/><rect x="658.07" y="264.67" width="3.26" height="71.17"/><rect x="662.15" y="258.17" width="3.26" height="68.67"/><rect x="666.22" y="268" width="3.26" height="62"/><rect x="670.3" y="255" width="3.26" height="73.83"/><rect x="674.37" y="279.5" width="3.26" height="50.5"/><rect x="678.45" y="264.67" width="3.26" height="62.17"/><rect x="682.52" y="269" width="3.26" height="59"/><rect x="686.6" y="285.83" width="3.26" height="49"/><rect x="690.68" y="254.17" width="3.26" height="71.83"/><rect x="694.75" y="277" width="3.26" height="57.67"/><rect x="698.83" y="261" width="3.26" height="73"/><rect x="702.9" y="262" width="3.26" height="72.67"/><rect x="706.98" y="278.33" width="3.26" height="50.67"/><rect x="711.05" y="259.5" width="3.26" height="73.67"/><rect x="715.13" y="278" width="3.26" height="52.67"/><rect x="719.2" y="260.83" width="3.26" height="67.17"/><rect x="723.28" y="272" width="3.26" height="59"/><rect x="727.36" y="277.83" width="3.26" height="57.33"/><rect x="731.43" y="269" width="3.26" height="68"/><rect x="735.51" y="264.33" width="3.26" height="73.83"/><rect x="739.58" y="260" width="3.26" height="67.5"/><rect x="743.66" y="288.83" width="3.26" height="48.33"/><rect x="747.73" y="283.67" width="3.26" height="53.17"/><rect x="751.81" y="300.83" width="3.26" height="26.17"/><rect x="755.88" y="288.83" width="3.26" height="48.17"/><rect x="759.96" y="258" width="3.26" height="73.83"/><rect x="764.04" y="261.33" width="3.26" height="73.67"/><rect x="768.11" y="280.17" width="3.26" height="50"/><rect x="772.19" y="298.67" width="3.26" height="38.5"/><rect x="776.26" y="278.83" width="3.26" height="59.17"/><rect x="780.34" y="272.5" width="3.26" height="67.17"/><rect x="784.41" y="268.17" width="3.26" height="63.17"/><rect x="788.49" y="282" width="3.26" height="53"/><rect x="792.56" y="281.33" width="3.26" height="59.67"/><rect x="796.64" y="269" width="3.26" height="73.67"/><rect x="800.72" y="292.83" width="3.26" height="43.67"/><rect x="804.79" y="273" width="3.26" height="63.17"/><rect x="808.87" y="267" width="3.26" height="68"/><rect x="812.94" y="267.83" width="3.26" height="69.17"/><rect x="817.02" y="267.83" width="3.26" height="71.5"/><rect x="821.09" y="288.67" width="3.26" height="52.17"/><rect x="825.17" y="263" width="3.26" height="73.83"/><rect x="829.24" y="282.5" width="3.26" height="52.83"/><rect x="833.32" y="264.17" width="3.26" height="74"/><rect x="837.4" y="295" width="3.26" height="46"/><rect x="841.47" y="274.67" width="3.26" height="60.17"/><rect x="845.55" y="293.83" width="3.26" height="47.17"/><rect x="849.62" y="264.17" width="3.26" height="74.5"/><rect x="853.7" y="274.4" width="3.26" height="63.2"/><rect x="857.77" y="283.6" width="3.26" height="54"/><rect x="861.85" y="277.6" width="3.26" height="64"/><rect x="865.92" y="265.6" width="3.26" height="70"/>
</g>
<g fill="#cdf69c">
<rect x="50.82" y="100" width="3.26" height="72.17"/><rect x="54.89" y="106.17" width="3.26" height="64.67"/><rect x="58.97" y="102.67" width="3.26" height="69.33"/><rect x="63.04" y="115" width="3.26" height="66.67"/><rect x="67.12" y="109.5" width="3.26" height="72.17"/><rect x="71.19" y="111.17" width="3.26" height="65.67"/><rect x="75.27" y="108" width="3.26" height="67"/><rect x="79.34" y="113.17" width="3.26" height="72.67"/><rect x="83.42" y="115.17" width="3.26" height="64.83"/><rect x="87.5" y="127.17" width="3.26" height="60.83"/><rect x="91.57" y="124.67" width="3.26" height="71"/><rect x="95.65" y="140" width="3.26" height="38"/><rect x="99.72" y="128" width="3.26" height="60.83"/><rect x="103.8" y="132" width="3.26" height="52"/><rect x="107.87" y="125.17" width="3.26" height="62.5"/><rect x="111.95" y="130" width="3.26" height="58.33"/><rect x="116.02" y="140.17" width="3.26" height="64.33"/><rect x="120.1" y="138.17" width="3.26" height="54.83"/><rect x="124.17" y="124.17" width="3.26" height="67.67"/><rect x="128.25" y="148" width="3.26" height="63.67"/><rect x="132.33" y="130.17" width="3.26" height="67.17"/><rect x="136.4" y="141.17" width="3.26" height="72.5"/><rect x="140.48" y="155.17" width="3.26" height="51.17"/><rect x="144.55" y="145" width="3.26" height="63.17"/><rect x="148.63" y="160.17" width="3.26" height="54.33"/><rect x="152.7" y="148.33" width="3.26" height="55.67"/><rect x="156.78" y="162" width="3.26" height="60"/><rect x="160.85" y="150" width="3.26" height="56"/><rect x="164.93" y="164.17" width="3.26" height="36.67"/><rect x="169.01" y="158.33" width="3.26" height="71.67"/><rect x="173.08" y="147.33" width="3.26" height="61.5"/><rect x="177.16" y="142.5" width="3.26" height="69.33"/><rect x="181.23" y="143.33" width="3.26" height="70.5"/><rect x="185.31" y="156.17" width="3.26" height="54.83"/><rect x="189.38" y="148.5" width="3.26" height="71.83"/><rect x="193.46" y="156.33" width="3.26" height="62.83"/><rect x="197.53" y="151.5" width="3.26" height="68.67"/><rect x="201.61" y="165" width="3.26" height="72"/><rect x="205.69" y="159.67" width="3.26" height="57.33"/><rect x="209.76" y="158.33" width="3.26" height="60.83"/><rect x="213.84" y="167" width="3.26" height="70.83"/><rect x="217.91" y="179" width="3.26" height="47.17"/><rect x="221.99" y="171.67" width="3.26" height="45"/><rect x="226.06" y="177.33" width="3.26" height="41.83"/><rect x="230.14" y="163.17" width="3.26" height="59"/><rect x="234.21" y="184.17" width="3.26" height="69.83"/><rect x="238.29" y="166.17" width="3.26" height="56.83"/><rect x="242.37" y="157.33" width="3.26" height="69"/><rect x="246.44" y="174.17" width="3.26" height="68.5"/><rect x="250.52" y="165.17" width="3.26" height="63.83"/><rect x="254.59" y="175.17" width="3.26" height="71"/><rect x="258.67" y="196.83" width="3.26" height="35"/><rect x="262.74" y="162.17" width="3.26" height="69.83"/><rect x="266.82" y="161.67" width="3.26" height="67.5"/><rect x="270.89" y="186.17" width="3.26" height="33.83"/><rect x="274.97" y="176.33" width="3.26" height="48.67"/><rect x="279.05" y="190.33" width="3.26" height="33.83"/><rect x="283.12" y="175.17" width="3.26" height="58.5"/><rect x="287.2" y="176.17" width="3.26" height="58.67"/><rect x="291.27" y="167" width="3.26" height="67.17"/><rect x="295.35" y="178.67" width="3.26" height="69.33"/><rect x="299.42" y="192" width="3.26" height="32.33"/><rect x="303.5" y="194.5" width="3.26" height="46.67"/><rect x="307.57" y="197.17" width="3.26" height="53.83"/><rect x="311.65" y="164.83" width="3.26" height="70.83"/><rect x="315.73" y="167.17" width="3.26" height="68.83"/><rect x="319.8" y="177.33" width="3.26" height="70.67"/><rect x="323.88" y="193.33" width="3.26" height="53.83"/><rect x="327.95" y="173.83" width="3.26" height="62.17"/><rect x="332.03" y="168" width="3.26" height="70"/><rect x="336.1" y="168.67" width="3.26" height="72.17"/><rect x="340.18" y="209.17" width="3.26" height="38"/><rect x="344.25" y="190.33" width="3.26" height="46.17"/><rect x="348.33" y="198.17" width="3.26" height="55.17"/><rect x="352.41" y="199.5" width="3.26" height="58.5"/><rect x="356.48" y="195.17" width="3.26" height="38.67"/><rect x="360.56" y="177.17" width="3.26" height="65.17"/><rect x="364.63" y="198.83" width="3.26" height="55"/><rect x="368.71" y="173.67" width="3.26" height="69.33"/><rect x="372.78" y="178.33" width="3.26" height="68.67"/><rect x="376.86" y="192.17" width="3.26" height="68.83"/><rect x="380.93" y="172.17" width="3.26" height="73.17"/><rect x="385.01" y="203.67" width="3.26" height="31.17"/><rect x="389.09" y="176.33" width="3.26" height="70"/><rect x="393.16" y="201.67" width="3.26" height="35.5"/><rect x="397.24" y="196.17" width="3.26" height="56.83"/><rect x="401.31" y="196" width="3.26" height="70.83"/><rect x="405.39" y="184.33" width="3.26" height="71.5"/><rect x="409.46" y="208" width="3.26" height="58.33"/><rect x="413.54" y="190.33" width="3.26" height="52.67"/><rect x="417.61" y="201.17" width="3.26" height="54.5"/><rect x="421.69" y="189.33" width="3.26" height="60.17"/><rect x="425.77" y="199.17" width="3.26" height="46.83"/><rect x="429.84" y="190.67" width="3.26" height="55.67"/><rect x="433.92" y="196.67" width="3.26" height="54.5"/><rect x="437.99" y="193.17" width="3.26" height="53"/><rect x="442.07" y="188.33" width="3.26" height="61.33"/><rect x="446.14" y="197" width="3.26" height="71"/><rect x="450.22" y="186.67" width="3.26" height="67.33"/><rect x="454.29" y="205.67" width="3.26" height="50"/><rect x="458.37" y="199.17" width="3.26" height="70.5"/><rect x="462.45" y="206.33" width="3.26" height="61"/><rect x="466.52" y="196.83" width="3.26" height="59.17"/><rect x="470.6" y="186.17" width="3.26" height="65"/><rect x="474.67" y="198.17" width="3.26" height="68.17"/><rect x="478.75" y="208.67" width="3.26" height="51.33"/><rect x="482.82" y="190.67" width="3.26" height="59.33"/><rect x="486.9" y="200.5" width="3.26" height="71.5"/><rect x="490.97" y="194" width="3.26" height="56.33"/><rect x="495.05" y="185.17" width="3.26" height="66.83"/><rect x="499.13" y="187.5" width="3.26" height="68.67"/><rect x="503.2" y="215.17" width="3.26" height="52.5"/><rect x="507.28" y="189.33" width="3.26" height="65"/><rect x="511.35" y="228" width="3.26" height="36"/><rect x="515.43" y="199.83" width="3.26" height="48.67"/><rect x="519.5" y="189.17" width="3.26" height="64.67"/><rect x="523.58" y="216.33" width="3.26" height="52.83"/><rect x="527.65" y="216.17" width="3.26" height="47.5"/><rect x="531.73" y="206.33" width="3.26" height="63.33"/><rect x="535.81" y="199.67" width="3.26" height="70.33"/><rect x="539.88" y="225.83" width="3.26" height="42"/><rect x="543.96" y="224.17" width="3.26" height="43.33"/><rect x="548.03" y="185.5" width="3.26" height="70.83"/><rect x="552.11" y="204.17" width="3.26" height="57.5"/><rect x="556.18" y="197" width="3.26" height="63"/><rect x="560.26" y="187.83" width="3.26" height="68.33"/><rect x="564.33" y="215.17" width="3.26" height="56"/><rect x="568.41" y="199" width="3.26" height="55"/><rect x="572.49" y="208.17" width="3.26" height="69.83"/><rect x="576.56" y="208" width="3.26" height="69"/><rect x="580.64" y="207.83" width="3.26" height="43.33"/><rect x="584.71" y="219.67" width="3.26" height="38"/><rect x="588.79" y="203.17" width="3.26" height="60.67"/><rect x="592.86" y="206.67" width="3.26" height="67.5"/><rect x="596.94" y="205" width="3.26" height="72.83"/><rect x="601.01" y="207.17" width="3.26" height="48.83"/><rect x="605.09" y="203.17" width="3.26" height="52.83"/><rect x="609.17" y="222.5" width="3.26" height="42.17"/><rect x="613.24" y="190.17" width="3.26" height="72.17"/><rect x="617.32" y="200.17" width="3.26" height="57.67"/><rect x="621.39" y="212.17" width="3.26" height="57.33"/><rect x="625.47" y="203.17" width="3.26" height="55.67"/><rect x="629.54" y="194" width="3.26" height="67"/><rect x="633.62" y="193.33" width="3.26" height="69.67"/><rect x="637.69" y="231.17" width="3.26" height="37.83"/><rect x="641.77" y="210.33" width="3.26" height="45.5"/><rect x="645.84" y="214" width="3.26" height="68.83"/><rect x="649.92" y="206.17" width="3.26" height="69.83"/><rect x="654" y="222.17" width="3.26" height="29.67"/><rect x="658.07" y="198.17" width="3.26" height="66.5"/><rect x="662.15" y="223.5" width="3.26" height="34.67"/><rect x="666.22" y="219.67" width="3.26" height="48.33"/><rect x="670.3" y="217" width="3.26" height="38"/><rect x="674.37" y="225.17" width="3.26" height="54.33"/><rect x="678.45" y="229.83" width="3.26" height="34.83"/><rect x="682.52" y="229" width="3.26" height="40"/><rect x="686.6" y="213.83" width="3.26" height="72"/><rect x="690.68" y="229.67" width="3.26" height="24.5"/><rect x="694.75" y="210.5" width="3.26" height="66.5"/><rect x="698.83" y="206.83" width="3.26" height="54.17"/><rect x="702.9" y="206.33" width="3.26" height="55.67"/><rect x="706.98" y="233.83" width="3.26" height="44.5"/><rect x="711.05" y="209.17" width="3.26" height="50.33"/><rect x="715.13" y="229.5" width="3.26" height="48.5"/><rect x="719.2" y="230.33" width="3.26" height="30.5"/><rect x="723.28" y="227" width="3.26" height="45"/><rect x="727.36" y="216.17" width="3.26" height="61.67"/><rect x="731.43" y="207.17" width="3.26" height="61.83"/><rect x="735.51" y="199.5" width="3.26" height="64.83"/><rect x="739.58" y="235" width="3.26" height="25"/><rect x="743.66" y="217.5" width="3.26" height="71.33"/><rect x="747.73" y="216" width="3.26" height="67.67"/><rect x="751.81" y="257" width="3.26" height="43.83"/><rect x="755.88" y="218" width="3.26" height="70.83"/><rect x="759.96" y="220.17" width="3.26" height="37.83"/><rect x="764.04" y="214.33" width="3.26" height="47"/><rect x="768.11" y="241.33" width="3.26" height="38.83"/><rect x="772.19" y="227.83" width="3.26" height="70.83"/><rect x="776.26" y="214.17" width="3.26" height="64.67"/><rect x="780.34" y="206.83" width="3.26" height="65.67"/><rect x="784.41" y="233.67" width="3.26" height="34.5"/><rect x="788.49" y="229" width="3.26" height="53"/><rect x="792.56" y="209.33" width="3.26" height="72"/><rect x="796.64" y="199.67" width="3.26" height="69.33"/><rect x="800.72" y="232.5" width="3.26" height="60.33"/><rect x="804.79" y="222.83" width="3.26" height="50.17"/><rect x="808.87" y="227.33" width="3.26" height="39.67"/><rect x="812.94" y="220.33" width="3.26" height="47.5"/><rect x="817.02" y="212.67" width="3.26" height="55.17"/><rect x="821.09" y="220.17" width="3.26" height="68.5"/><rect x="825.17" y="218.33" width="3.26" height="44.67"/><rect x="829.24" y="236.17" width="3.26" height="46.33"/><rect x="833.32" y="219" width="3.26" height="45.17"/><rect x="837.4" y="225.5" width="3.26" height="69.5"/><rect x="841.47" y="235.17" width="3.26" height="39.5"/><rect x="845.55" y="223.33" width="3.26" height="70.5"/><rect x="849.62" y="218.33" width="3.26" height="45.83"/><rect x="853.7" y="226.2" width="3.26" height="48.2"/><rect x="857.77" y="232" width="3.26" height="51.6"/><rect x="861.85" y="217" width="3.26" height="60.6"/><rect x="865.92" y="231" width="3.26" height="34.6"/>
</g>
<g class="ax" fill="none" stroke="#212529" stroke-width="1">
<path d="M50.5,464.5H870.5"/>
<path d="M52.45,464.5v6M56.52,464.5v6M60.6,464.5v6M64.67,464.5v6M68.75,464.5v6M72.82,464.5v6M76.9,464.5v6M80.97,464.5v6M85.05,464.5v6M89.13,464.5v6M93.2,464.5v6M97.28,464.5v6M101.35,464.5v6M105.43,464.5v6M109.5,464.5v6M113.58,464.5v6M117.65,464.5v6M121.73,464.5v6M125.81,464.5v6M129.88,464.5v6M133.96,464.5v6M138.03,464.5v6M142.11,464.5v6M146.18,464.5v6M150.26,464.5v6M154.33,464.5v6M158.41,464.5v6M162.49,464.5v6M166.56,464.5v6M170.64,464.5v6M174.71,464.5v6M178.79,464.5v6M182.86,464.5v6M186.94,464.5v6M191.01,464.5v6M195.09,464.5v6M199.17,464.5v6M203.24,464.5v6M207.32,464.5v6M211.39,464.5v6M215.47,464.5v6M219.54,464.5v6M223.62,464.5v6M227.69,464.5v6M231.77,464.5v6M235.84,464.5v6M239.92,464.5v6M244,464.5v6M248.07,464.5v6M252.15,464.5v6M256.22,464.5v6M260.3,464.5v6M264.37,464.5v6M268.45,464.5v6M272.52,464.5v6M276.6,464.5v6M280.68,464.5v6M284.75,464.5v6M288.83,464.5v6M292.9,464.5v6M296.98,464.5v6M301.05,464.5v6M305.13,464.5v6M309.2,464.5v6M313.28,464.5v6M317.36,464.5v6M321.43,464.5v6M325.51,464.5v6M329.58,464.5v6M333.66,464.5v6M337.73,464.5v6M341.81,464.5v6M345.88,464.5v6M349.96,464.5v6M354.04,464.5v6M358.11,464.5v6M362.19,464.5v6M366.26,464.5v6M370.34,464.5v6M374.41,464.5v6M378.49,464.5v6M382.56,464.5v6M386.64,464.5v6M390.72,464.5v6M394.79,464.5v6M398.87,464.5v6M402.94,464.5v6M407.02,464.5v6M411.09,464.5v6M415.17,464.5v6M419.24,464.5v6M423.32,464.5v6M427.4,464.5v6M431.47,464.5v6M435.55,464.5v6M439.62,464.5v6M443.7,464.5v6M447.77,464.5v6M451.85,464.5v6M455.92,464.5v6M460,464.5v6M464.08,464.5v6M468.15,464.5v6M472.23,464.5v6M476.3,464.5v6M480.38,464.5v6M484.45,464.5v6M488.53,464.5v6M492.6,464.5v6M496.68,464.5v6M500.76,464.5v6M504.83,464.5v6M508.91,464.5v6M512.98,464.5v6M517.06,464.5v6M521.13,464.5v6M525.21,464.5v6M529.28,464.5v6M533.36,464.5v6M537.44,464.5v6M541.51,464.5v6M545.59,464.5v6M549.66,464.5v6M553.74,464.5v6M557.81,464.5v6M561.89,464.5v6M565.96,464.5v6M570.04,464.5v6M574.12,464.5v6M578.19,464.5v6M582.27,464.5v6M586.34,464.5v6M590.42,464.5v6M594.49,464.5v6M598.57,464.5v6M602.64,464.5v6M606.72,464.5v6M610.8,464.5v6M614.87,464.5v6M618.95,464.5v6M623.02,464.5v6M627.1,464.5v6M631.17,464.5v6M635.25,464.5v6M639.32,464.5v6M643.4,464.5v6M647.48,464.5v6M651.55,464.5v6M655.63,464.5v6M659.7,464.5v6M663.78,464.5v6M667.85,464.5v6M671.93,464.5v6M676,464.5v6M680.08,464.5v6M684.16,464.5v6M688.23,464.5v6M692.31,464.5v6M696.38,464.5v6M700.46,464.5v6M704.53,464.5v6M708.61,464.5v6M712.68,464.5v6M716.76,464.5v6M720.83,464.5v6M724.91,464.5v6M728.99,464.5v6M733.06,464.5v6M737.14,464.5v6M741.21,464.5v6M745.29,464.5v6M749.36,464.5v6M753.44,464.5v6M757.51,464.5v6M761.59,464.5v6M765.67,464.5v6M769.74,464.5v6M773.82,464.5v6M777.89,464.5v6M781.97,464.5v6M786.04,464.5v6M790.12,464.5v6M794.19,464.5v6M798.27,464.5v6M802.35,464.5v6M806.42,464.5v6M810.5,464.5v6M814.57,464.5v6M818.65,464.5v6M822.72,464.5v6M826.8,464.5v6M830.87,464.5v6M834.95,464.5v6M839.03,464.5v6M843.1,464.5v6M847.18,464.5v6M851.25,464.5v6M855.33,464.5v6M859.4,464.5v6M863.48,464.5v6M867.55,464.5v6"/>
</g>
<g class="ax" text-anchor="end" fill-opacity="0.85">
<text transform="translate(52.45,464) rotate(-90)" x="-9.5" y="9" dy="0.71em">University of Oxford</text><text transform="translate(56.52,464) rotate(-90)" x="-9.5" y="9" dy="0.71em">California Institute of Technology (Caltech)</text><text transform="translate(60.6,464) rotate(-90)" x="-9.5" y="9" dy="0.71em">University of Cambridge</text><text transform="translate(64.67,464) rotate(-90)" x="-9.5" y="9" dy="0.71em">Stanford University</text><text transform="translate(68.75,464) rotate(-90)" x="-9.5" y="9" dy="0.71em">Massachusetts Institute of Technology (MIT)</text><text transform="translate(72.82,464) rotate(-90)" x="-9.5" y="9" dy="0.71em">Princeton University</text><text transform="translate(76.9,464) rotate(-90)" x="-9.5" y="9" dy="0.71em">Harvard University</text><text transform="translate(80.97,464) rotate(-90)" x="-9.5" y="9" dy="0.71em">Yale University</text><text transform="translate(85.05,464) rotate(-90)" x="-9.5" y="9" dy="0.71em">University of Chicago</text><text transform="translate(89.13,464) rotate(-90)" x="-9.5" y="9" dy="0.71em">Imperial College London</text><text transform="translate(93.2,464) rotate(-90)" x="-9.5" y="9" dy="0.71em">University of Pennsylvania</text><text transform="translate(97.28,464) rotate(-90)" x="-9.5" y="9" dy="0.71em">Johns Hopkins University</text><text transform="translate(101.35,464) rotate(-90)" x="-9.5" y="9" dy="0.71em">Osaka University</text><text transform="translate(105.43,464) rotate(-90)" x="-9.5" y="9" dy="0.71em">ETH Zurich</text><text transform="translate(109.5,464) rotate(-90)" x="-9.5" y="9" dy="0.71em">UCL (University College London)</text><text transform="translate(113.58,464) rotate(-90)" x="-9.5" y="9" dy="0.71em">Columbia University</text><text transform="translate(117.65,464) rotate(-90)" x="-9.5" y="9" dy="0.71em">Tohoku University</text><text transform="translate(121.73,464) rotate(-90)" x="-9.5" y="9" dy="0.71em">University of Toronto</text><text transform="translate(125.81,464) rotate(-90)" x="-9.5" y="9" dy="0.71em">Cornell University</text><text transform="translate(129.88,464) rotate(-90)" x="-9.5" y="9" dy="0.71em">Duke University</text><text transform="translate(133.96,464) rotate(-90)" x="-9.5" y="9" dy="0.71em">University of Michigan-Ann Arbor</text><text transform="translate(138.03,464) rotate(-90)" x="-9.5" y="9" dy="0.71em">Northwestern University</text><text transform="translate(142.11,464) rotate(-90)" x="-9.5" y="9" dy="0.71em">Tsinghua University</text><text transform="translate(146.18,464) rotate(-90)" x="-9.5" y="9" dy="0.71em">Peking University</text><text transform="translate(150.26,464) rotate(-90)" x="-9.5" y="9" dy="0.71em">Nagoya University</text><text transform="translate(154.33,464) rotate(-90)" x="-9.5" y="9" dy="0.71em">Carnegie Mellon University</text><text transform="translate(158.41,464) rotate(-90)" x="-9.5" y="9" dy="0.71em">London School of Economics and Political Science (LSE)</text><text transform="translate(162.49,464) rotate(-90)" x="-9.5" y="9" dy="0.71em">New York University (NYU)</text><text transform="translate(166.56,464) rotate(-90)" x="-9.5" y="9" dy="0.71em">Wuhan University</text><text transform="translate(170.64,464) rotate(-90)" x="-9.5" y="9" dy="0.71em">University of California, San Diego (UCSD)</text><text transform="translate(174.71,464) rotate(-90)" x="-9.5" y="9" dy="0.71em">The University of Melbourne</text><text transform="translate(178.79,464) rotate(-90)" x="-9.5" y="9" dy="0.71em">Sun Yat-sen University</text><text transform="translate(182.86,464) rotate(-90)" x="-9.5" y="9" dy="0.71em">University of British Columbia</text><text transform="translate(186.94,464) rotate(-90)" x="-9.5" y="9" dy="0.71em">The University of Hong Kong</text><text transform="translate(191.01,464) rotate(-90)" x="-9.5" y="9" dy="0.71em">Aalto University</text><text transform="translate(195.09,464) rotate(-90)" x="-9.5" y="9" dy="0.71em">The University of Tokyo</text><text transform="translate(199.17,464) rotate(-90)" x="-9.5" y="9" dy="0.71em">Ecole Polytechnique Fédérale de Lausanne (EPFL)</text><text transform="translate(203.24,464) rotate(-90)" x="-9.5" y="9" dy="0.71em">Tilburg University</text><text transform="translate(207.32,464) rotate(-90)" x="-9.5" y="9" dy="0.71em">University of Texas at Austin</text><text transform="translate(211.39,464) rotate(-90)" x="-9.5" y="9" dy="0.71em">Karolinska Institute</text><text transform="translate(215.47,464) rotate(-90)" x="-9.5" y="9" dy="0.71em">McGill University</text><text transform="translate(219.54,464) rotate(-90)" x="-9.5" y="9" dy="0.71em">Queen&#x27;s University</text><text transform="translate(223.62,464) rotate(-90)" x="-9.5" y="9" dy="0.71em">Heidelberg University</text><text transform="translate(227.69,464) rotate(-90)" x="-9.5" y="9" dy="0.71em">KU Leuven</text><text transform="translate(231.77,464) rotate(-90)" x="-9.5" y="9" dy="0.71em">Université PSL</text><text transform="translate(235.84,464) rotate(-90)" x="-9.5" y="9" dy="0.71em">Dalhousie University</text><text transform="translate(239.92,464) rotate(-90)" x="-9.5" y="9" dy="0.71em">University of Illinois at Urbana-Champaign</text><text transform="translate(244,464) rotate(-90)" x="-9.5" y="9" dy="0.71em">Nanyang Technological University, Singapore (NTU)</text><text transform="translate(248.07,464) rotate(-90)" x="-9.5" y="9" dy="0.71em">The Australian National University</text><text transform="translate(252.15,464) rotate(-90)" x="-9.5" y="9" dy="0.71em">Simon Fraser University</text><text transform="translate(256.22,464) rotate(-90)" x="-9.5" y="9" dy="0.71em">Washington University in St. Louis</text><text transform="translate(260.3,464) rotate(-90)" x="-9.5" y="9" dy="0.71em">Brown University</text><text transform="translate(264.37,464) rotate(-90)" x="-9.5" y="9" dy="0.71em">University of North Carolina, Chapel Hill</text><text transform="translate(268.45,464) rotate(-90)" x="-9.5" y="9" dy="0.71em">Macquarie University</text><text transform="translate(272.52,464) rotate(-90)" x="-9.5" y="9" dy="0.71em">The University of Manchester</text><text transform="translate(276.6,464) rotate(-90)" x="-9.5" y="9" dy="0.71em">The Chinese University of Hong Kong (CUHK)</text><text transform="translate(280.68,464) rotate(-90)" x="-9.5" y="9" dy="0.71em">Griffith University</text><text transform="translate(284.75,464) rotate(-90)" x="-9.5" y="9" dy="0.71em">Delft University of Technology</text><text transform="translate(288.83,464) rotate(-90)" x="-9.5" y="9" dy="0.71em">The University of Sydney</text><text transform="translate(292.9,464) rotate(-90)" x="-9.5" y="9" dy="0.71em">Boston University</text><text transform="translate(296.98,464) rotate(-90)" x="-9.5" y="9" dy="0.71em">Curtin University</text><text transform="translate(301.05,464) rotate(-90)" x="-9.5" y="9" dy="0.71em">Utrecht University</text><text transform="translate(305.13,464) rotate(-90)" x="-9.5" y="9" dy="0.71em">Seoul National University</text><text transform="translate(309.2,464) rotate(-90)" x="-9.5" y="9" dy="0.71em">Kyoto University</text><text transform="translate(313.28,464) rotate(-90)" x="-9.5" y="9" dy="0.71em">The University of Queensland</text><text transform="translate(317.36,464) rotate(-90)" x="-9.5" y="9" dy="0.71em">Leiden University</text><text transform="translate(321.43,464) rotate(-90)" x="-9.5" y="9" dy="0.71em">Erasmus University Rotterdam</text><text transform="translate(325.51,464) rotate(-90)" x="-9.5" y="9" dy="0.71em">La Trobe University</text><text transform="translate(329.58,464) rotate(-90)" x="-9.5" y="9" dy="0.71em">The Ohio State University</text><text transform="translate(333.66,464) rotate(-90)" x="-9.5" y="9" dy="0.71em">University of Groningen</text><text transform="translate(337.73,464) rotate(-90)" x="-9.5" y="9" dy="0.71em">The University of New South Wales (UNSW Sydney)</text><text transform="translate(341.81,464) rotate(-90)" x="-9.5" y="9" dy="0.71em">McMaster University</text><text transform="translate(345.88,464) rotate(-90)" x="-9.5" y="9" dy="0.71em">Tel Aviv University</text><text transform="translate(349.96,464) rotate(-90)" x="-9.5" y="9" dy="0.71em">Monash University</text><text transform="translate(354.04,464) rotate(-90)" x="-9.5" y="9" dy="0.71em">University of Minnesota Twin Cities</text><text transform="translate(358.11,464) rotate(-90)" x="-9.5" y="9" dy="0.71em">Pennsylvania State University</text><text transform="translate(362.19,464) rotate(-90)" x="-9.5" y="9" dy="0.71em">Sorbonne University</text><text transform="translate(366.26,464) rotate(-90)" x="-9.5" y="9" dy="0.71em">Emory University</text><text transform="translate(370.34,464) rotate(-90)" x="-9.5" y="9" dy="0.71em">University of Science and Technology of China</text><text transform="translate(374.41,464) rotate(-90)" x="-9.5" y="9" dy="0.71em">Yonsei University</text><text transform="translate(378.49,464) rotate(-90)" x="-9.5" y="9" dy="0.71em">University of Maryland, College Park</text><text transform="translate(382.56,464) rotate(-90)" x="-9.5" y="9" dy="0.71em">Michigan State University</text><text transform="translate(386.64,464) rotate(-90)" x="-9.5" y="9" dy="0.71em">Université de Montréal</text><text transform="translate(390.72,464) rotate(-90)" x="-9.5" y="9" dy="0.71em">Hanyang University</text><text transform="translate(394.79,464) rotate(-90)" x="-9.5" y="9" dy="0.71em">University of Glasgow</text><text transform="translate(398.87,464) rotate(-90)" x="-9.5" y="9" dy="0.71em">Sungkyunkwan University (SKKU)</text><text transform="translate(402.94,464) rotate(-90)" x="-9.5" y="9" dy="0.71em">Kyung Hee University</text><text transform="translate(407.02,464) rotate(-90)" x="-9.5" y="9" dy="0.71em">Eberhard Karls Universität Tübingen</text><text transform="translate(411.09,464) rotate(-90)" x="-9.5" y="9" dy="0.71em">University of Zurich</text><text transform="translate(415.17,464) rotate(-90)" x="-9.5" y="9" dy="0.71em">National Tsing Hua University</text><text transform="translate(419.24,464) rotate(-90)" x="-9.5" y="9" dy="0.71em">Purdue University</text><text transform="translate(423.32,464) rotate(-90)" x="-9.5" y="9" dy="0.71em">University of Amsterdam</text><text transform="translate(427.4,464) rotate(-90)" x="-9.5" y="9" dy="0.71em">Ghent University</text><text transform="translate(431.47,464) rotate(-90)" x="-9.5" y="9" dy="0.71em">University of Helsinki</text><text transform="translate(435.55,464) rotate(-90)" x="-9.5" y="9" dy="0.71em">Lund University</text><text transform="translate(439.62,464) rotate(-90)" x="-9.5" y="9" dy="0.71em">Tongji University</text><text transform="translate(443.7,464) rotate(-90)" x="-9.5" y="9" dy="0.71em">University of Copenhagen</text><text transform="translate(447.77,464) rotate(-90)" x="-9.5" y="9" dy="0.71em">Charité - Universitätsmedizin Berlin</text><text transform="translate(451.85,464) rotate(-90)" x="-9.5" y="9" dy="0.71em">Sichuan University</text><text transform="translate(455.92,464) rotate(-90)" x="-9.5" y="9" dy="0.71em">Rice University</text><text transform="translate(460,464) rotate(-90)" x="-9.5" y="9" dy="0.71em">University of Bonn</text><text transform="translate(464.08,464) rotate(-90)" x="-9.5" y="9" dy="0.71em">Fudan University</text><text transform="translate(468.15,464) rotate(-90)" x="-9.5" y="9" dy="0.71em">Dartmouth College</text><text transform="translate(472.23,464) rotate(-90)" x="-9.5" y="9" dy="0.71em">Vanderbilt University</text><text transform="translate(476.3,464) rotate(-90)" x="-9.5" y="9" dy="0.71em">Xiamen University</text><text transform="translate(480.38,464) rotate(-90)" x="-9.5" y="9" dy="0.71em">Uppsala University</text><text transform="translate(484.45,464) rotate(-90)" x="-9.5" y="9" dy="0.71em">Zhejiang University</text><text transform="translate(488.53,464) rotate(-90)" x="-9.5" y="9" dy="0.71em">University of Birmingham</text><text transform="translate(492.6,464) rotate(-90)" x="-9.5" y="9" dy="0.71em">RWTH Aachen University</text><text transform="translate(496.68,464) rotate(-90)" x="-9.5" y="9" dy="0.71em">University of Bern</text><text transform="translate(500.76,464) rotate(-90)" x="-9.5" y="9" dy="0.71em">Nankai University</text><text transform="translate(504.83,464) rotate(-90)" x="-9.5" y="9" dy="0.71em">Aarhus University</text><text transform="translate(508.91,464) rotate(-90)" x="-9.5" y="9" dy="0.71em">Free University of Berlin</text><text transform="translate(512.98,464) rotate(-90)" x="-9.5" y="9" dy="0.71em">University of Göttingen</text><text transform="translate(517.06,464) rotate(-90)" x="-9.5" y="9" dy="0.71em">Hokkaido University</text><text transform="translate(521.13,464) rotate(-90)" x="-9.5" y="9" dy="0.71em">University of Southampton</text><text transform="translate(525.21,464) rotate(-90)" x="-9.5" y="9" dy="0.71em">Case Western Reserve University</text><text transform="translate(529.28,464) rotate(-90)" x="-9.5" y="9" dy="0.71em">University of Oslo</text><text transform="translate(533.36,464) rotate(-90)" x="-9.5" y="9" dy="0.71em">Kyushu University</text><text transform="translate(537.44,464) rotate(-90)" x="-9.5" y="9" dy="0.71em">University of Pittsburgh</text><text transform="translate(541.51,464) rotate(-90)" x="-9.5" y="9" dy="0.71em">University of Alberta</text><text transform="translate(545.59,464) rotate(-90)" x="-9.5" y="9" dy="0.71em">Waseda University</text><text transform="translate(549.66,464) rotate(-90)" x="-9.5" y="9" dy="0.71em">Durham University</text><text transform="translate(553.74,464) rotate(-90)" x="-9.5" y="9" dy="0.71em">University of York</text><text transform="translate(557.81,464) rotate(-90)" x="-9.5" y="9" dy="0.71em">Maastricht University</text><text transform="translate(561.89,464) rotate(-90)" x="-9.5" y="9" dy="0.71em">University of Mannheim</text><text transform="translate(565.96,464) rotate(-90)" x="-9.5" y="9" dy="0.71em">Keio University</text><text transform="translate(570.04,464) rotate(-90)" x="-9.5" y="9" dy="0.71em">Nanjing University</text><text transform="translate(574.12,464) rotate(-90)" x="-9.5" y="9" dy="0.71em">Technical University of Berlin</text><text transform="translate(578.19,464) rotate(-90)" x="-9.5" y="9" dy="0.71em">University of Arizona</text><text transform="translate(582.27,464) rotate(-90)" x="-9.5" y="9" dy="0.71em">Georgetown University</text><text transform="translate(586.34,464) rotate(-90)" x="-9.5" y="9" dy="0.71em">Brandeis University</text><text transform="translate(590.42,464) rotate(-90)" x="-9.5" y="9" dy="0.71em">University of Hamburg</text><text transform="translate(594.49,464) rotate(-90)" x="-9.5" y="9" dy="0.71em">Pohang University of Science and Technology (POSTECH)</text><text transform="translate(598.57,464) rotate(-90)" x="-9.5" y="9" dy="0.71em">Lancaster University</text><text transform="translate(602.64,464) rotate(-90)" x="-9.5" y="9" dy="0.71em">Tulane University</text><text transform="translate(606.72,464) rotate(-90)" x="-9.5" y="9" dy="0.71em">University of Ottawa</text><text transform="translate(610.8,464) rotate(-90)" x="-9.5" y="9" dy="0.71em">Indiana University Bloomington</text><text transform="translate(614.87,464) rotate(-90)" x="-9.5" y="9" dy="0.71em">Shanghai Jiao Tong University</text><text transform="translate(618.95,464) rotate(-90)" x="-9.5" y="9" dy="0.71em">Drexel University</text><text transform="translate(623.02,464) rotate(-90)" x="-9.5" y="9" dy="0.71em">City University of Hong Kong</text><text transform="translate(627.1,464) rotate(-90)" x="-9.5" y="9" dy="0.71em">University of Florida</text><text transform="translate(631.17,464) rotate(-90)" x="-9.5" y="9" dy="0.71em">Arizona State University</text><text transform="translate(635.25,464) rotate(-90)" x="-9.5" y="9" dy="0.71em">Syracuse University</text><text transform="translate(639.32,464) rotate(-90)" x="-9.5" y="9" dy="0.71em">Pompeu Fabra University</text><text transform="translate(643.4,464) rotate(-90)" x="-9.5" y="9" dy="0.71em">University of Cape Town</text><text transform="translate(647.48,464) rotate(-90)" x="-9.5" y="9" dy="0.71em">University of Leeds</text><text transform="translate(651.55,464) rotate(-90)" x="-9.5" y="9" dy="0.71em">Tufts University</text><text transform="translate(655.63,464) rotate(-90)" x="-9.5" y="9" dy="0.71em">Stony Brook University</text><text transform="translate(659.7,464) rotate(-90)" x="-9.5" y="9" dy="0.71em">Autonomous University of Barcelona</text><text transform="translate(663.78,464) rotate(-90)" x="-9.5" y="9" dy="0.71em">University of Vienna</text><text transform="translate(667.85,464) rotate(-90)" x="-9.5" y="9" dy="0.71em">Stockholm University</text><text transform="translate(671.93,464) rotate(-90)" x="-9.5" y="9" dy="0.71em">Florida State University</text><text transform="translate(676,464) rotate(-90)" x="-9.5" y="9" dy="0.71em">Scuola Superiore Sant&#x27;Anna</text><text transform="translate(680.08,464) rotate(-90)" x="-9.5" y="9" dy="0.71em">University of Sussex</text><text transform="translate(684.16,464) rotate(-90)" x="-9.5" y="9" dy="0.71em">Iowa State University</text><text transform="translate(688.23,464) rotate(-90)" x="-9.5" y="9" dy="0.71em">Ulm University</text><text transform="translate(692.31,464) rotate(-90)" x="-9.5" y="9" dy="0.71em">University of Würzburg</text><text transform="translate(696.38,464) rotate(-90)" x="-9.5" y="9" dy="0.71em">University of Nottingham</text><text transform="translate(700.46,464) rotate(-90)" x="-9.5" y="9" dy="0.71em">Oregon State University</text><text transform="translate(704.53,464) rotate(-90)" x="-9.5" y="9" dy="0.71em">Vrije Universiteit Amsterdam</text><text transform="translate(708.61,464) rotate(-90)" x="-9.5" y="9" dy="0.71em">University of Notre Dame</text><text transform="translate(712.68,464) rotate(-90)" x="-9.5" y="9" dy="0.71em">Colorado State University</text><text transform="translate(716.76,464) rotate(-90)" x="-9.5" y="9" dy="0.71em">Karlsruhe Institute of Technology</text><text transform="translate(720.83,464) rotate(-90)" x="-9.5" y="9" dy="0.71em">University of Erlangen-Nuremberg</text><text transform="translate(724.91,464) rotate(-90)" x="-9.5" y="9" dy="0.71em">Washington State University</text><text transform="translate(728.99,464) rotate(-90)" x="-9.5" y="9" dy="0.71em">University of Leicester</text><text transform="translate(733.06,464) rotate(-90)" x="-9.5" y="9" dy="0.71em">University of Aberdeen</text><text transform="translate(737.14,464) rotate(-90)" x="-9.5" y="9" dy="0.71em">Cardiff University</text><text transform="translate(741.21,464) rotate(-90)" x="-9.5" y="9" dy="0.71em">North Carolina State University</text><text transform="translate(745.29,464) rotate(-90)" x="-9.5" y="9" dy="0.71em">Lomonosov Moscow State University</text><text transform="translate(749.36,464) rotate(-90)" x="-9.5" y="9" dy="0.71em">University of Auckland</text><text transform="translate(753.44,464) rotate(-90)" x="-9.5" y="9" dy="0.71em">Newcastle University</text><text transform="translate(757.51,464) rotate(-90)" x="-9.5" y="9" dy="0.71em">University of Liverpool</text><text transform="translate(761.59,464) rotate(-90)" x="-9.5" y="9" dy="0.71em">George Washington University</text><text transform="translate(765.67,464) rotate(-90)" x="-9.5" y="9" dy="0.71em">University of Calgary</text><text transform="translate(769.74,464) rotate(-90)" x="-9.5" y="9" dy="0.71em">Texas A&amp;M University</text><text transform="translate(773.82,464) rotate(-90)" x="-9.5" y="9" dy="0.71em">University of Technology Sydney</text><text transform="translate(777.89,464) rotate(-90)" x="-9.5" y="9" dy="0.71em">Korea University</text><text transform="translate(781.97,464) rotate(-90)" x="-9.5" y="9" dy="0.71em">Wake Forest University</text><text transform="translate(786.04,464) rotate(-90)" x="-9.5" y="9" dy="0.71em">University of East Anglia (UEA)</text><text transform="translate(790.12,464) rotate(-90)" x="-9.5" y="9" dy="0.71em">University of Dundee</text><text transform="translate(794.19,464) rotate(-90)" x="-9.5" y="9" dy="0.71em">Northeastern University</text><text transform="translate(798.27,464) rotate(-90)" x="-9.5" y="9" dy="0.71em">Linköping University</text><text transform="translate(802.35,464) rotate(-90)" x="-9.5" y="9" dy="0.71em">Queensland University of Technology (QUT)</text><text transform="translate(806.42,464) rotate(-90)" x="-9.5" y="9" dy="0.71em">University of Waterloo</text><text transform="translate(810.5,464) rotate(-90)" x="-9.5" y="9" dy="0.71em">Umeå University</text><text transform="translate(814.57,464) rotate(-90)" x="-9.5" y="9" dy="0.71em">University of Luxembourg</text><text transform="translate(818.65,464) rotate(-90)" x="-9.5" y="9" dy="0.71em">Scuola Normale Superiore di Pisa</text><text transform="translate(822.72,464) rotate(-90)" x="-9.5" y="9" dy="0.71em">Hong Kong Polytechnic University</text><text transform="translate(826.8,464) rotate(-90)" x="-9.5" y="9" dy="0.71em">Swansea University</text><text transform="translate(830.87,464) rotate(-90)" x="-9.5" y="9" dy="0.71em">Royal Holloway University of London</text><text transform="translate(834.95,464) rotate(-90)" x="-9.5" y="9" dy="0.71em">Western University</text><text transform="translate(839.03,464) rotate(-90)" x="-9.5" y="9" dy="0.71em">University of Twente</text><text transform="translate(843.1,464) rotate(-90)" x="-9.5" y="9" dy="0.71em">Loughborough University</text><text transform="translate(847.18,464) rotate(-90)" x="-9.5" y="9" dy="0.71em">National Taiwan University (NTU)</text><text transform="translate(851.25,464) rotate(-90)" x="-9.5" y="9" dy="0.71em">University of Bologna</text><text transform="translate(855.33,464) rotate(-90)" x="-9.5" y="9" dy="0.71em">Heriot-Watt University</text><text transform="translate(859.4,464) rotate(-90)" x="-9.5" y="9" dy="0.71em">KTH Royal Institute of Technology</text><text transform="translate(863.48,464) rotate(-90)" x="-9.5" y="9" dy="0.71em">University of Antwerp</text><text transform="translate(867.55,464) rotate(-90)" x="-9.5" y="9" dy="0.71em">National University of Singapore (NUS)</text>
</g>
<g class="ax" fill="none" stroke="#212529" stroke-width="1"><path d="M44,94.5H50.5V464.5H44"/><path d="M44,427.5H50.5M44,390.5H50.5M44,353.5H50.5M44,316.5H50.5M44,279.5H50.5M44,242.5H50.5M44,205.5H50.5M44,168.5H50.5M44,131.5H50.5"/></g>
<g class="ax" text-anchor="end">
<text x="41" y="464.5" dy="0.32em">0</text><text x="41" y="427.5" dy="0.32em">50</text><text x="41" y="390.5" dy="0.32em">100</text><text x="41" y="353.5" dy="0.32em">150</text><text x="41" y="316.5" dy="0.32em">200</text><text x="41" y="279.5" dy="0.32em">250</text><text x="41" y="242.5" dy="0.32em">300</text><text x="41" y="205.5" dy="0.32em">350</text><text x="41" y="168.5" dy="0.32em">400</text><text x="41" y="131.5" dy="0.32em">450</text><text x="41" y="94.5" dy="0.32em">500</text>
</g>
<g class="lg">
<circle cx="150" cy="114" r="10" fill="#ede798"/><text x="165" y="127" textLength="50.5" lengthAdjust="spacing">Teaching</text>
<circle cx="300" cy="114" r="10" fill="#f7cf99"/><text x="315" y="127" textLength="51" lengthAdjust="spacing">Research</text>
<circle cx="450" cy="114" r="10" fill="#f7b09d"/><text x="465" y="127" textLength="49" lengthAdjust="spacing">Citations</text>
<circle cx="600" cy="114" r="10" fill="#a0ddf7"/><text x="615" y="127" textLength="91" lengthAdjust="spacing">Industry Income</text>
<circle cx="750" cy="114" r="10" fill="#cdf69c"/><text x="765" y="127" textLength="120" lengthAdjust="spacing">International Outlook</text>
</g>
</svg>
</body></html>
